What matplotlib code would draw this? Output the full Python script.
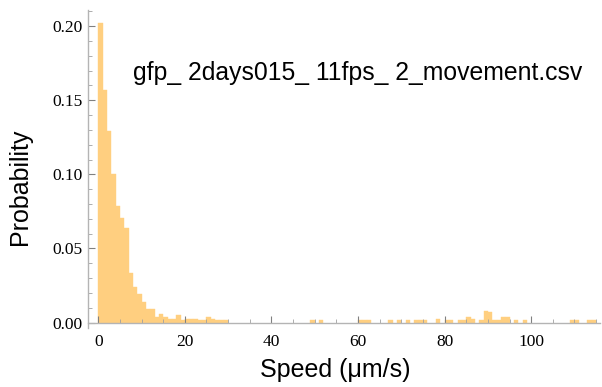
import numpy as np
import matplotlib
matplotlib.use("Agg")
import matplotlib.pyplot as plt
from matplotlib.ticker import MultipleLocator, FormatStrFormatter

# Histogram bins: [i, i+1) for speed in um/s, probability per bin
bin_left = list(range(0, 30)) + [49, 51, 60, 61, 62, 67, 69, 71, 73, 74, 75, 78,
                                   80, 81, 83, 84, 85, 86, 88, 89, 90, 91, 92, 93, 94,
                                   96, 98, 109, 110, 113, 114]
probability = [0.202, 0.157, 0.129, 0.100, 0.0786, 0.0705, 0.064, 0.0335, 0.024, 0.0192,
               0.014, 0.009, 0.009, 0.004, 0.0057, 0.0039, 0.0026, 0.0026, 0.005, 0.002,
               0.0024, 0.0024, 0.0024, 0.002, 0.002, 0.004, 0.0024, 0.0015, 0.0015, 0.0015,
               0.0015, 0.0015, 0.0015, 0.0015, 0.0015, 0.0015, 0.0015, 0.0015, 0.0015, 0.0015, 0.0015, 0.0022,
               0.0016, 0.0016, 0.0016, 0.0016, 0.0036, 0.0022, 0.0016, 0.0077, 0.0070, 0.0016, 0.0016, 0.0036, 0.0036,
               0.0015, 0.0015, 0.0015, 0.0015, 0.0015, 0.0015]
bin_width = 1.0

title_text = "gfp_ 2days015_ 11fps_ 2_movement.csv"
x_label = "Speed (\u03bcm/s)"
y_label = "Probability"

fig = plt.figure(figsize=(6.02, 3.87), dpi=100)
ax = fig.add_axes([88.3/602, 1-328/387, (600-88.3)/602, (328-10)/387])

ax.bar(bin_left, probability, width=bin_width, align='edge', color='#FFCF80',
       edgecolor='#FFCF80', linewidth=0.3)

ax.set_xlim(-2.3, 115.9)
ax.set_ylim(-0.0037, 0.2109)

for s in ['top', 'right']:
    ax.spines[s].set_visible(False)
ax.spines['bottom'].set_position(('data', 0))
ax.spines['bottom'].set_color('#b4b4b4')
ax.spines['left'].set_color('#b4b4b4')
ax.spines['bottom'].set_linewidth(1.0)
ax.spines['left'].set_linewidth(1.0)

ax.xaxis.set_major_locator(MultipleLocator(20))
ax.xaxis.set_minor_locator(MultipleLocator(5))
ax.yaxis.set_major_locator(MultipleLocator(0.05))
ax.yaxis.set_minor_locator(MultipleLocator(0.01))
ax.yaxis.set_major_formatter(FormatStrFormatter('%.2f'))

ax.tick_params(axis='both', which='major', direction='in', length=5, width=0.8,
               color='#808080', labelsize=12.5, pad=4)
ax.tick_params(axis='both', which='minor', direction='in', length=3, width=0.6,
               color='#a0a0a0')
ax.tick_params(axis='x', which='major', pad=8)
for lab in ax.get_xticklabels() + ax.get_yticklabels():
    lab.set_family('Liberation Serif')

ax.set_xlabel(x_label, fontsize=18, family='Liberation Sans')
ax.set_ylabel(y_label, fontsize=18, family='Liberation Sans')
ax.xaxis.set_label_coords(0.482, -0.094)
ax.yaxis.set_label_coords(-0.110, 0.443)

fig.text(133/602, 1-73/387, title_text, fontsize=17.8,
         family='Liberation Sans', ha='left', va='center')

fig.savefig('out.png', dpi=100)
